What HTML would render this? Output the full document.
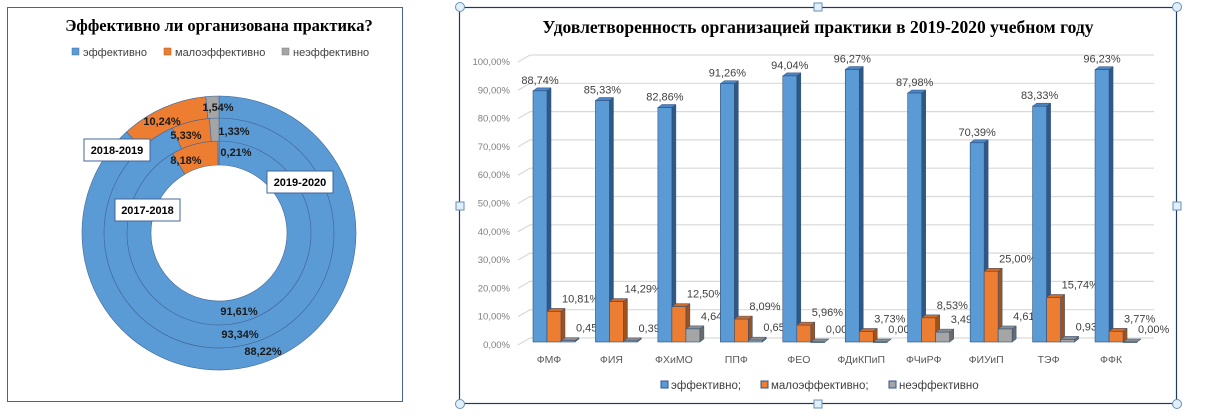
<!DOCTYPE html>
<html><head><meta charset="utf-8">
<style>
body{margin:0;background:#fff;width:1212px;height:420px;overflow:hidden;font-family:"Liberation Sans","DejaVu Sans",sans-serif;}
svg{position:absolute;left:0;top:0}
</style></head>
<body>
<svg id="s" width="1212" height="420" viewBox="0 0 1212 420" xmlns="http://www.w3.org/2000/svg">
<g>
<rect x="7.5" y="7.5" width="395" height="394" fill="#fff" stroke="#41669a" stroke-width="1"/>
<text x="219" y="31" text-anchor="middle" font-family="Liberation Serif,serif" font-weight="bold" font-size="16.5">Эффективно ли организована практика?</text>
<g font-size="11" fill="#404040">
<rect x="72" y="48" width="7" height="7" fill="#5b9bd5" stroke="#41719c" stroke-width="0.5"/><text x="83" y="56">эффективно</text>
<rect x="164" y="48" width="7" height="7" fill="#ed7d31" stroke="#ae5a21" stroke-width="0.5"/><text x="175" y="56">малоэффективно</text>
<rect x="282" y="48" width="7" height="7" fill="#a5a5a5" stroke="#787878" stroke-width="0.5"/><text x="293" y="56">неэффективно</text>
</g>
<g id="donut"></g>
</g>
<g>
<rect x="459.5" y="7.5" width="717" height="396" fill="#fff" stroke="#1f3864" stroke-width="1.2"/>
<g fill="#dff0fa" stroke="#6a8fb5" stroke-width="1">
<circle cx="460" cy="7" r="4.5"/><circle cx="1177" cy="7" r="4.5"/><circle cx="460" cy="404" r="4.5"/><circle cx="1177" cy="404" r="4.5"/>
<rect x="814" y="3" width="8" height="8"/><rect x="814" y="400" width="8" height="8"/><rect x="456" y="202" width="8" height="8"/><rect x="1173" y="202" width="8" height="8"/>
</g>
<text x="818" y="33" text-anchor="middle" font-family="Liberation Serif,serif" font-weight="bold" font-size="17.5">Удовлетворенность организацией  практики в 2019-2020 учебном году</text>
<g id="bars"></g>
<g font-size="11.5" fill="#404040">
<rect x="661" y="381" width="7" height="7" fill="#5b9bd5" stroke="#2f5597"/><text x="671" y="389">эффективно;</text>
<rect x="761" y="381" width="7" height="7" fill="#ed7d31" stroke="#2f5597"/><text x="771" y="389">малоэффективно;</text>
<rect x="889" y="381" width="7" height="7" fill="#a5a5a5" stroke="#2f5597"/><text x="899" y="389">неэффективно</text>
</g>
</g>
</svg>
<script>
// Donut data
const ringYears = ["2017-2018","2018-2019","2019-2020"];
const ringEffective = [91.61, 93.34, 88.22];
const ringLow = [8.18, 5.33, 10.24];
const ringNone = [0.21, 1.33, 1.54];
// Bar data
const categories = ["ФМФ","ФИЯ","ФХиМО","ППФ","ФЕО","ФДиКПиП","ФЧиРФ","ФИУиП","ТЭФ","ФФК"];
const effective = [88.74,85.33,82.86,91.26,94.04,96.27,87.98,70.39,83.33,96.23];
const lowEff = [10.81,14.29,12.50,8.09,5.96,3.73,8.53,25.00,15.74,3.77];
const notEff = [0.45,0.39,4.64,0.65,0.00,0.00,3.49,4.61,0.93,0.00];
const yTicks = [0,10,20,30,40,50,60,70,80,90,100];

const NS="http://www.w3.org/2000/svg";
function mk(tag,attrs,parent){const e=document.createElementNS(NS,tag);for(const k in attrs)e.setAttribute(k,attrs[k]);parent.appendChild(e);return e;}
function fmt(v){return v.toFixed(2).replace('.',',')+'%';}

// ---- donut ----
const dg=document.getElementById('donut');
const dcx=219, dcy=233;
const radii=[[68,92],[92,115],[115,137]];
const cols=["#5b9bd5","#ed7d31","#a5a5a5"];
function arc(r0,r1,a0,a1){
  const p=(r,a)=>[dcx+r*Math.sin(a),dcy-r*Math.cos(a)];
  const large=(a1-a0)>Math.PI?1:0;
  const [x1,y1]=p(r1,a0),[x2,y2]=p(r1,a1),[x3,y3]=p(r0,a1),[x4,y4]=p(r0,a0);
  return `M${x1},${y1}A${r1},${r1} 0 ${large} 1 ${x2},${y2}L${x3},${y3}A${r0},${r0} 0 ${large} 0 ${x4},${y4}Z`;
}
const labelPos=[[[239,315],[186,164],[236,156]],[[240,338],[186,139],[234,135]],[[263,355],[162,125],[218,111]]];
for(let i=0;i<3;i++){
  const vals=[ringEffective[i],ringLow[i],ringNone[i]];
  const tot=vals.reduce((a,b)=>a+b,0);
  let a=0;
  for(let j=0;j<3;j++){
    const a1=a+vals[j]/tot*2*Math.PI;
    const el=mk('path',{d:arc(radii[i][0],radii[i][1],a,a1),fill:cols[j],stroke:"#41669a","stroke-width":0.6},dg);
    
    
    a=a1;
  }
  for(let j=0;j<3;j++){
    const t=mk('text',{x:labelPos[i][j][0],y:labelPos[i][j][1],"text-anchor":"middle","font-size":"11","font-weight":"bold",fill:"#1a1a1a"},dg);
    t.textContent=fmt(vals[j]);
    
    
  }
}
const yearBoxes=[[115,199,65,22],[84,139,66,22],[267,171,66,22]];
for(let i=0;i<3;i++){
  const [x,y,w,h]=yearBoxes[i];
  const r=mk('rect',{x:x,y:y,width:w,height:h,fill:"#fff",stroke:"#41669a","stroke-width":1},dg);
  
  
  const t=mk('text',{x:x+w/2,y:y+15,"text-anchor":"middle","font-size":"11","font-weight":"bold"},dg);
  t.textContent=ringYears[i];
  
  
}

// ---- bars ----
const bg=document.getElementById('bars');
const base=342, scale=2.83;
const yS=v=>base-v*scale;
const xC=i=>549+i*62.45;
const dx=12, dy=-7;
yTicks.forEach(v=>{
  const y=yS(v);
  const l=mk('polyline',{points:`518,${y+3} ${518+dx},${y+3+dy} 1154,${y+3+dy}`,fill:"none",stroke:"#d9d9d9","stroke-width":1.2},bg);
  
  
  const t=mk('text',{x:510,y:y+6,"text-anchor":"end","font-size":"9.5",fill:"#7f7f7f"},bg);
  t.textContent=v.toFixed(2).replace('.',',')+'%';
  
  
});
const series=[effective,lowEff,notEff];
const frontCol=["#5b9bd5","#ed7d31","#a5a5a5"];
const sideCol=["#2f5886","#a0521c","#6b6b6b"];
const topCol=["#4a86c5","#d46a22","#8c8c8c"];
const sNames=["effective","low","none"];
const bw=14, dd=4;
categories.forEach((c,i)=>{
  for(let s=0;s<3;s++){
    const v=series[s][i];
    const x=xC(i)-16+s*bw, y=yS(v), h=base-y;
    const g=mk('g',{},bg);
    
    
    mk('polygon',{points:`${x+bw},${y} ${x+bw+dd},${y-3} ${x+bw+dd},${base-3} ${x+bw},${base}`,fill:sideCol[s],stroke:"#2f4f7a","stroke-width":0.5},g);
    mk('polygon',{points:`${x},${y} ${x+dd},${y-3} ${x+bw+dd},${y-3} ${x+bw},${y}`,fill:topCol[s],stroke:"#2f4f7a","stroke-width":0.5},g);
    mk('rect',{x:x,y:y,width:bw,height:Math.max(h,0.5),fill:frontCol[s],stroke:"#2f4f7a","stroke-width":0.6},g);
    const lbl=mk('text',{x:s===0?x+7:x+bw+1,y:s===0?y-7:y-9,"text-anchor":s===0?"middle":"start","font-size":"11",fill:"#404040"},bg);
    lbl.textContent=fmt(v);
    
    
  }
  const t=mk('text',{x:xC(i),y:363,"text-anchor":"middle","font-size":"10.5",fill:"#595959"},bg);
  t.textContent=c;
  
  
});
</script>
</body></html>
